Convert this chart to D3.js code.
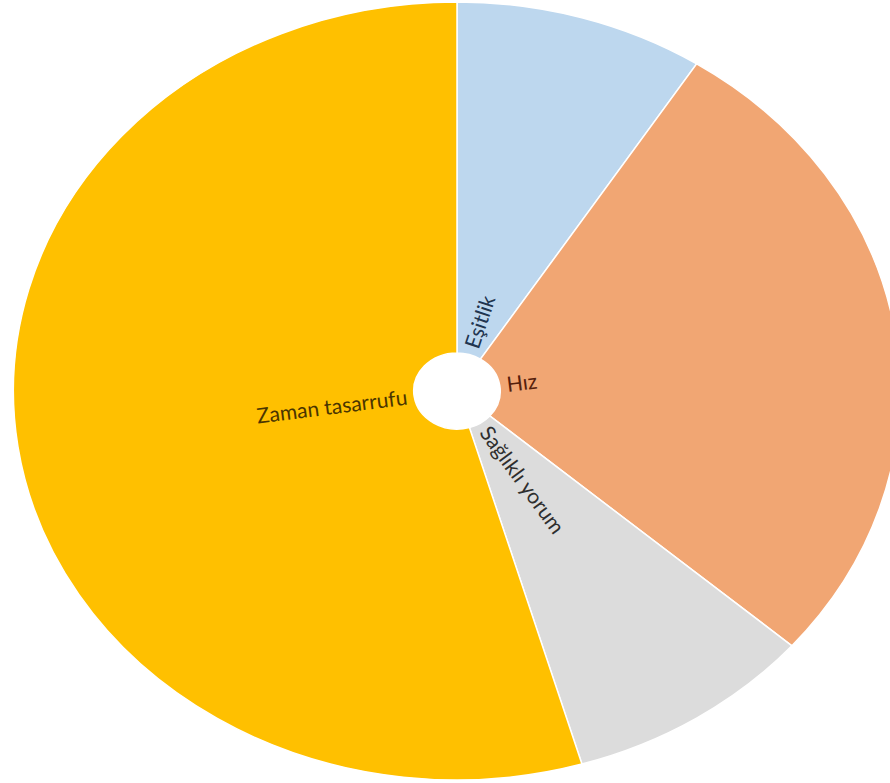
<!DOCTYPE html>
<html>
<head>
<meta charset="utf-8">
<script src="https://cdn.jsdelivr.net/npm/d3@7/dist/d3.min.js"></script>
<style>
  html, body { margin: 0; padding: 0; background: #ffffff; }
  svg { display: block; }
  text { font-family: "Lato", "Open Sans", sans-serif; }
</style>
</head>
<body>
<svg id="chart" width="890" height="783"></svg>
<script>
// Survey answers: reasons given, with number of responses
const categories = ["Eşitlik", "Hız", "Sağlıklı yorum", "Zaman tasarrufu"];
const values = [2, 6, 2, 12];
const colors = ["#bdd7ee", "#f1a673", "#dcdcdc", "#ffc000"];
const labelColors = ["#1f3550", "#55200c", "#2e2e2e", "#4a3500"];

const W = 890, H = 783;
const cx = 457, cy = 391;
const rx = 443, ry = 389;   // the doughnut is drawn as a slightly wide ellipse
const inner = 0.098;

const svg = d3.select("#chart");

const data = categories.map((c, i) => ({ name: c, value: values[i], i }));
const pie = d3.pie().value(d => d.value).sort(null);
const arcs = pie(data);

const arc = d3.arc().innerRadius(inner).outerRadius(1);

const g = svg.append("g")
  .attr("transform", `translate(${cx},${cy}) scale(${rx},${ry})`);

g.selectAll("path")
  .data(arcs)
  .join("path")
  .attr("d", arc)
  .attr("fill", d => colors[d.data.i])
  .attr("stroke", "#ffffff")
  .attr("stroke-width", 1.5)
  .attr("vector-effect", "non-scaling-stroke");

// Radial labels, starting just outside the hole
const pad = 7;
const labels = svg.append("g");
arcs.forEach(d => {
  const a = (d.startAngle + d.endAngle) / 2;
  const ux = Math.sin(a) * rx, uy = -Math.cos(a) * ry;
  const len = Math.hypot(ux, uy);
  const dx = ux / len, dy = uy / len;
  const holeR = Math.hypot(Math.sin(a) * inner * rx, Math.cos(a) * inner * ry);
  const dist = holeR + pad;
  const x = cx + dx * dist, y = cy + dy * dist;
  let rot = Math.atan2(dy, dx) * 180 / Math.PI;
  let anchor = "start";
  if (dx < 0) { rot += 180; anchor = "end"; }
  labels.append("text")
    .attr("transform", `translate(${x},${y}) rotate(${rot})`)
    .attr("text-anchor", anchor)
    .attr("dy", "0.35em")
    .attr("font-size", 21)
    .attr("fill", labelColors[d.data.i])
    .text(d.data.name);
});
</script>
</body>
</html>
